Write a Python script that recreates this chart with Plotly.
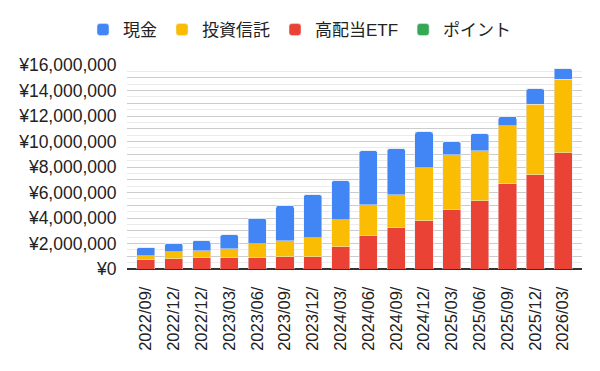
import plotly.graph_objects as go

labels = ["2022/09/", "2022/12/", "2022/12/", "2023/03/", "2023/06/", "2023/09/", "2023/12/", "2024/03/",
          "2024/06/", "2024/09/", "2024/12/", "2025/03/", "2025/06/", "2025/09/", "2025/12/", "2026/03/"]
etf = [730000, 810000, 890000, 890000, 890000, 960000, 960000, 1740000,
       2600000, 3230000, 3780000, 4640000, 5350000, 6680000, 7380000, 9100000]
trust = [320000, 550000, 540000, 700000, 1090000, 1250000, 1490000, 2120000,
         2430000, 2590000, 4150000, 4310000, 3910000, 4540000, 5560000, 5800000]
cash = [620000, 620000, 780000, 1090000, 2020000, 2750000, 3370000, 3050000,
        4230000, 3600000, 2820000, 1020000, 1340000, 710000, 1180000, 800000]
points = [0] * 16

ytick_vals = list(range(0, 16000001, 1000000))
ytick_text = [("¥{:,}".format(v) if v % 2000000 == 0 else "") for v in ytick_vals]

x = list(range(len(labels)))
FONT = "'Liberation Sans', Arial, 'Noto Sans CJK JP', sans-serif"

fig = go.Figure()
fig.add_bar(x=x, y=etf, name="高配当ETF", marker_color="#EA4335", legendrank=3)
fig.add_bar(x=x, y=trust, name="投資信託", marker_color="#FBBC04", legendrank=2)
fig.add_bar(x=x, y=cash, name="現金", marker_color="#4285F4", legendrank=1)
fig.add_bar(x=x, y=points, name="ポイント", marker_color="#34A853", legendrank=4)

# the page body adds an 8px offset, so margins are shifted by -8px
fig.update_layout(
    width=600, height=371,
    barmode="stack", bargap=0.35, barcornerradius=2,
    paper_bgcolor="white", plot_bgcolor="white",
    margin=dict(l=119, r=26, t=57, b=110, autoexpand=False),
    font=dict(family=FONT, size=16, color="#222222"),
    legend=dict(orientation="h", xref="container", yref="container",
                x=292 / 600, xanchor="center", y=1 - 22 / 371, yanchor="middle",
                font=dict(family=FONT, size=17, color="#222222"), itemwidth=30,
                traceorder="normal"),
    xaxis=dict(tickmode="array", tickvals=x, ticktext=labels, tickangle=-90,
               range=[-0.68, 15.68], showgrid=False, ticks="outside", ticklen=10,
               tickcolor="rgba(0,0,0,0)", showline=False, zeroline=False, automargin=False,
               tickfont=dict(family=FONT, size=16.5, color="#222222")),
    yaxis=dict(range=[0, 16000000], tickmode="array", tickvals=ytick_vals, ticktext=ytick_text,
               gridcolor="#cccccc", gridwidth=1, ticks="outside", ticklen=6, automargin=False,
               tickcolor="rgba(0,0,0,0)", zeroline=True, zerolinecolor="#333333", zerolinewidth=1.5,
               tickfont=dict(family=FONT, size=17.5, color="#222222"),
               minor=dict(dtick=500000, showgrid=True, gridcolor="#ebebeb", gridwidth=1)),
)

fig.write_html("out.html")
